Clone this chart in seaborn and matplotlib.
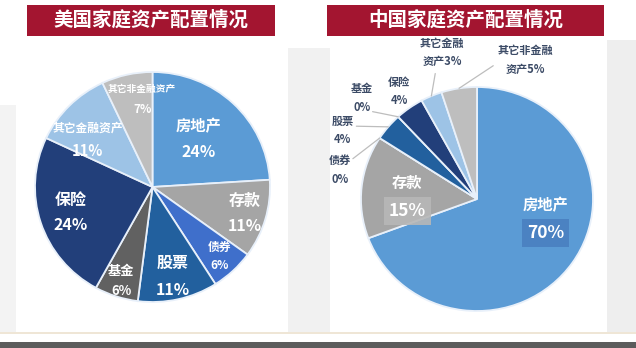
import numpy as np
import matplotlib
matplotlib.use("Agg")
import matplotlib.pyplot as plt
import seaborn as sns
from matplotlib.patches import Rectangle

# ---- data -------------------------------------------------------------
categories = ["房地产", "存款", "债券", "股票", "基金", "保险", "其它金融资产", "其它非金融资产"]
us_share = [24, 11, 6, 11, 6, 24, 11, 7]
cn_share = [70, 15, 0, 4, 0, 4, 3, 5]
us_title = "美国家庭资产配置情况"
cn_title = "中国家庭资产配置情况"

slice_colors = ["#5B9BD5", "#A5A5A5", "#3F6FCB", "#22609E",
                "#616161", "#223F7A", "#9DC3E6", "#BEBEBE"]

# ---- style ------------------------------------------------------------
sns.set_theme(style="white")
plt.rcParams["font.family"] = ["Noto Sans CJK SC", "DejaVu Sans"]
plt.rcParams["font.weight"] = "bold"

W, H = 636, 348
fig = plt.figure(figsize=(W / 100, H / 100), dpi=100)
fig.patch.set_facecolor("white")


def fig_box(x0, y0, x1, y1):
    """Pixel box (origin top-left) -> figure-fraction rect."""
    return [x0 / W, 1 - y1 / H, (x1 - x0) / W, (y1 - y0) / H]


def add_rect(x0, y0, x1, y1, color, z=0, alpha=1.0):
    l, b, w, h = fig_box(x0, y0, x1, y1)
    fig.add_artist(Rectangle((l, b), w, h, transform=fig.transFigure,
                             facecolor=color, edgecolor="none",
                             zorder=z, alpha=alpha))


# soft grey margins around the two white panels
add_rect(0, 105, 16, 332, "#F3F3F3")
add_rect(288, 48, 330, 332, "#F1F1F1")
add_rect(607, 40, 636, 332, "#EEEEEE")
# bottom rule and footer band
add_rect(0, 332, 636, 334, "#EFE6D6")
add_rect(0, 342, 636, 348, "#5C5C5C")

# title banners
for (x0, x1, title) in [(27, 275, us_title), (327, 604, cn_title)]:
    add_rect(x0, 5, x1, 36, "#A31530", z=1)
    fig.text((x0 + x1) / 2 / W, 1 - 20.5 / H, title, color="white",
             fontsize=14, fontweight="bold", ha="center", va="center", zorder=2)


def pie_axes(box, cx, cy, rx, ry, values):
    x0, y0, x1, y1 = box
    ax = fig.add_axes(fig_box(*box))
    ax.patch.set_alpha(0)
    wedges, _ = ax.pie(values, colors=slice_colors, startangle=90,
                       counterclock=False, radius=1.0,
                       wedgeprops=dict(edgecolor="#E8F0FA", linewidth=1.3))
    ax.set_aspect("auto")
    ax.set_xlim((x0 - cx) / rx, (x1 - cx) / rx)
    ax.set_ylim((cy - y1) / ry, (cy - y0) / ry)
    ax.axis("off")
    mids = [np.deg2rad((w.theta1 + w.theta2) / 2) for w in wedges]
    return ax, mids


# ---- left: US ---------------------------------------------------------
rx_l, ry_l = 117.5, 115
ax_l, mids_l = pie_axes((0, 40, 316, 332), 152.5, 187, rx_l, ry_l, us_share)

us_radius = [0.57, 0.82, 0.83, 0.80, 0.86, 0.73, 0.69, 0.77]
us_turn = [0, 0, 0, 0, 0, 0, 8, -6]          # nudge (deg) off the slice centre
us_name_size = [11, 11.5, 8.5, 11.5, 9.5, 11.5, 8.5, 7]
us_pct_size = [11.5, 11.5, 8.5, 11.5, 9.5, 11.5, 10.5, 8.5]
us_gap_px = [26, 25, 18, 27, 20, 25, 23, 21]
for name, val, th, r, dt, ns, ps, gap in zip(categories, us_share, mids_l, us_radius,
                                             us_turn, us_name_size, us_pct_size, us_gap_px):
    th = th + np.deg2rad(dt)
    x, y = r * np.cos(th), r * np.sin(th)
    dy = gap / 2 / ry_l
    ax_l.text(x, y + dy, name, color="white", fontsize=ns, fontweight="bold",
              ha="center", va="center")
    ax_l.text(x, y - dy, f"{val}%", color="white", fontsize=ps, fontweight="bold",
              ha="center", va="center")

# ---- right: China -----------------------------------------------------
rx_r, ry_r = 116, 112
ax_r, mids_r = pie_axes((316, 40, 636, 332), 477, 199, rx_r, ry_r, cn_share)

# large slices: label inside with a tinted tag behind the percentage
inner = {0: ((0.59, -0.18), "#4A80C0"), 1: ((-0.60, 0.02), "#B7B7B7")}
for i, ((x, y), tag) in inner.items():
    dy = 14 / ry_r
    ax_r.text(x, y + dy, categories[i], color="white", fontsize=11,
              fontweight="bold", ha="center", va="center")
    ax_r.text(x, y - dy, f"{cn_share[i]}%", color="white", fontsize=12.5,
              fontweight="bold", ha="center", va="center",
              bbox=dict(boxstyle="square,pad=0.3", facecolor=tag,
                        edgecolor="none", alpha=0.9))

# small slices: outside labels with leader lines
label_color = "#3C4B66"
outer = {
    2: ("债券\n{v}%", (-1.18, 0.26), (-1.07, 0.36)),
    3: ("股票\n{v}%", (-1.16, 0.61), (-1.04, 0.65)),
    4: ("基金\n{v}%", (-0.99, 0.90), (-0.90, 0.78)),
    5: ("保险\n{v}%", (-0.67, 0.96), None),
    6: ("其它金融\n资产{v}%", (-0.30, 1.31), (-0.36, 1.12)),
    7: ("其它非金融\n资产{v}%", (0.42, 1.24), (0.14, 1.19)),
}
for i, (fmt, (tx, ty), start) in outer.items():
    ax_r.text(tx, ty, fmt.format(v=cn_share[i]), color=label_color,
              fontsize=8, fontweight="bold", ha="center", va="center",
              linespacing=1.55)
    if start is not None:
        th = mids_r[i]
        ax_r.plot([start[0], np.cos(th)], [start[1], np.sin(th)],
                  color="#BDBDBD", linewidth=0.9, solid_capstyle="round")

fig.savefig("out.png", dpi=100, facecolor=fig.get_facecolor())
